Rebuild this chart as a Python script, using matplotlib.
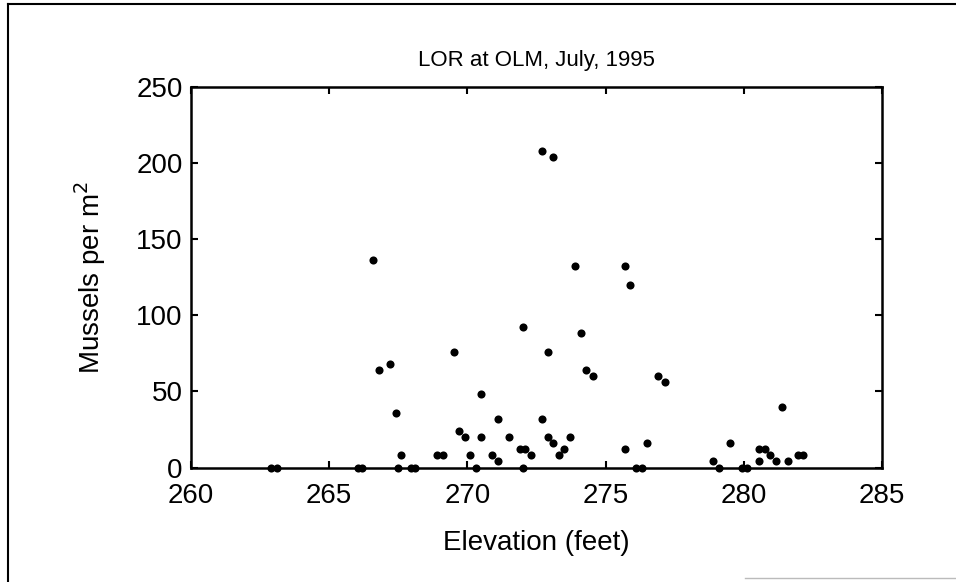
import matplotlib
matplotlib.use("Agg")
import matplotlib.pyplot as plt
from matplotlib.lines import Line2D

plt.rcParams["font.family"] = ["Liberation Sans", "DejaVu Sans"]

elevation = [272.7, 273.1, 266.6, 273.9, 275.7, 275.9, 272.0, 274.1, 272.9, 269.5,
             267.2, 266.8, 274.3, 274.55, 276.9, 277.15, 270.5, 281.4, 267.4, 271.1,
             272.7, 269.7,
             269.9, 270.5, 271.5, 272.9, 273.7,
             273.1, 276.5, 279.5,
             271.9, 272.1, 273.5, 275.7, 280.55, 280.75,
             267.6, 268.9, 269.1, 270.1, 270.9, 272.3, 273.3, 280.95, 281.95, 282.15,
             271.1, 278.9, 280.55, 281.15, 281.6,
             262.9, 263.1, 266.05, 266.2, 267.5, 267.95, 268.1, 270.3, 272.0, 276.1,
             276.3, 279.1, 279.95, 280.1]
mussels = [208, 204, 136, 132, 132, 120, 92, 88, 76, 76,
           68, 64, 64, 60, 60, 56, 48, 40, 36, 32,
           32, 24,
           20, 20, 20, 20, 20,
           16, 16, 16,
           12, 12, 12, 12, 12, 12,
           8, 8, 8, 8, 8, 8, 8, 8, 8, 8,
           4, 4, 4, 4, 4,
           0, 0, 0, 0, 0, 0, 0, 0, 0, 0,
           0, 0, 0, 0]

xticks = [260, 265, 270, 275, 280, 285]
yticks = [0, 50, 100, 150, 200, 250]

fig = plt.figure(figsize=(9.56, 5.82), dpi=100)
ax = fig.add_axes([191/956, 1-467.5/582, (882-191)/956, (467.5-86.7)/582])
ax.scatter(elevation, mussels, s=34, color="black", zorder=3, clip_on=False, linewidths=0)
ax.set_xlim(260, 285)
ax.set_ylim(0, 250)
ax.set_xticks(xticks)
ax.set_yticks(yticks)
ax.tick_params(direction="in", length=5, width=1.5, top=True, right=True,
               labelsize=20, colors="black")
ax.tick_params(axis="x", pad=11)
ax.tick_params(axis="y", pad=6)
for sp in ax.spines.values():
    sp.set_linewidth(1.8)
ax.set_title("LOR at OLM, July, 1995", fontsize=16, pad=15)
ax.set_xlabel("Elevation (feet)", fontsize=20, labelpad=15)
ax.set_ylabel("Mussels per m$^2$", fontsize=20, labelpad=20)

fig.add_artist(Line2D([8/956, 1], [1-4/582, 1-4/582], color="black", lw=1.5, transform=fig.transFigure))
fig.add_artist(Line2D([8/956, 8/956], [0, 1-4/582], color="black", lw=1.5, transform=fig.transFigure))
fig.add_artist(Line2D([745/956, 1], [1-578/582, 1-578/582], color="#bbbbbb", lw=1.0, transform=fig.transFigure))

fig.savefig("out.png", dpi=100)
